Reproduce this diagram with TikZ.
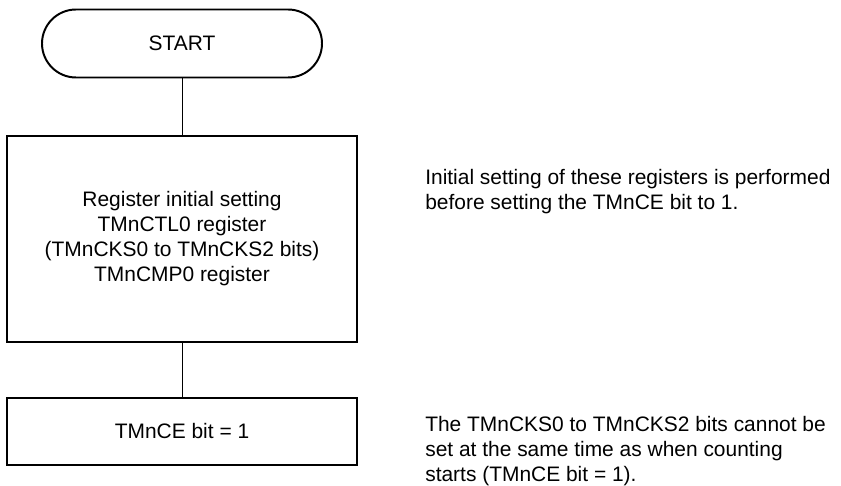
\documentclass[tikz,border=0pt]{standalone}
\usepackage{fontspec}
\setmainfont{Liberation Sans}
\usetikzlibrary{positioning}

\begin{document}
\begin{tikzpicture}[font=\fontsize{14.9}{17.8}\selectfont,
  term/.style={draw,line width=1.4pt,minimum width=7cm,minimum height=1.7cm,rounded corners=0.85cm},
  box/.style={draw,line width=1.4pt,minimum width=8.75cm,align=center,inner sep=0pt},
  note/.style={anchor=west,align=left,inner sep=0pt},
  link/.style={line width=0.7pt}]
  \useasboundingbox (0,0) rectangle (21.025,12.125);
  \node[term] (start) at (4.55,11.0375) {START};
  \node[box,minimum height=5.15cm] (init) at (4.55,6.15) {Register initial setting\\TMnCTL0 register\\(TMnCKS0 to TMnCKS2 bits)\\TMnCMP0 register};
  \node[box,minimum height=1.675cm] (ceset) at (4.55,1.3375) {TMnCE bit = 1};
  \node[note] (note1) at (10.625,7.34) {Initial setting of these registers is performed\\before setting the TMnCE bit to 1.};
  \node[note] (note2) at (10.625,0.85) {The TMnCKS0 to TMnCKS2 bits cannot be\\set at the same time as when counting\\starts (TMnCE bit = 1).};
  \draw[link] (start) -- (init);
  \draw[link] (init) -- (ceset);
\end{tikzpicture}
\end{document}
